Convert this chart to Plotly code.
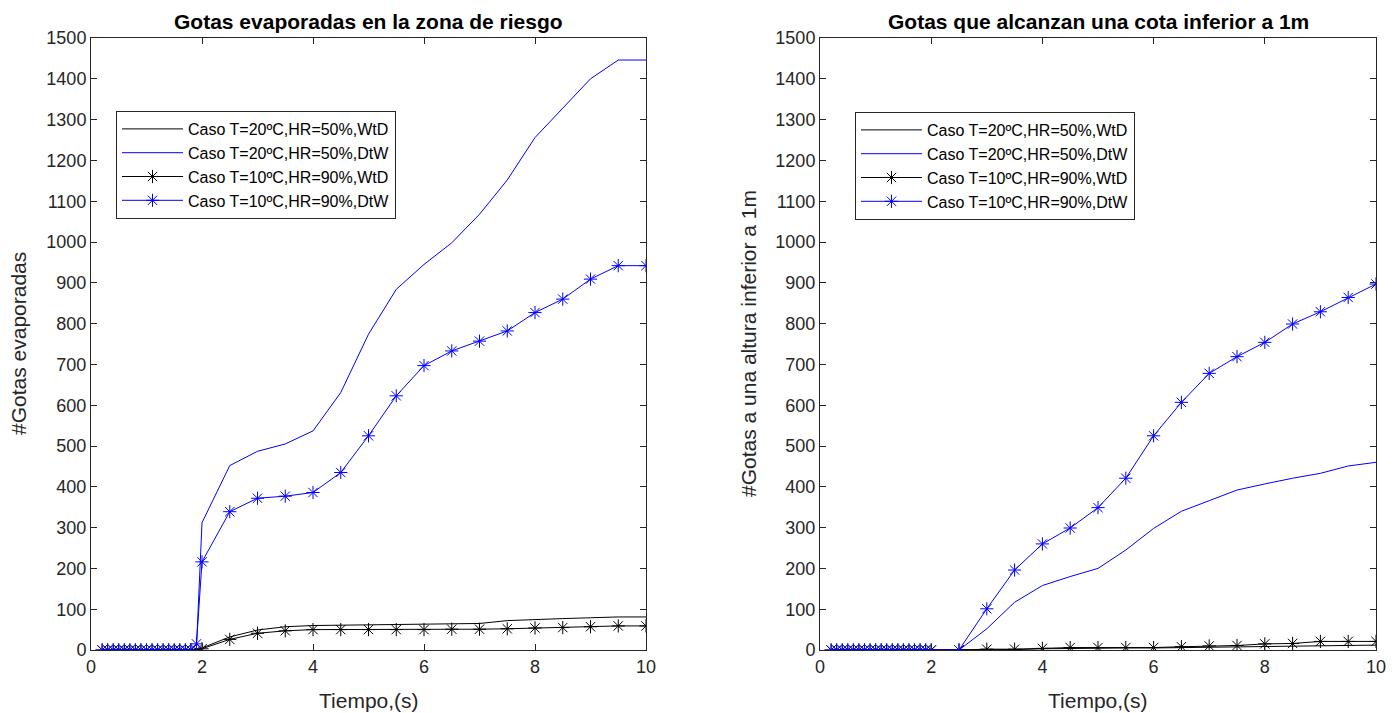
import plotly.graph_objects as go

# Simulation time instants (s)
tiempo = [0.2, 0.3, 0.4, 0.5, 0.6, 0.7, 0.8, 0.9, 1.0, 1.1, 1.2, 1.3, 1.4, 1.5,
          1.6, 1.7, 1.8, 1.9, 2.0, 2.5, 3.0, 3.5, 4.0, 4.5, 5.0, 5.5, 6.0, 6.5,
          7.0, 7.5, 8.0, 8.5, 9.0, 9.5, 10.0]

Z18 = [0] * 18  # 0.2 .. 1.9 s

# Left panel: droplets evaporated in the risk zone
evap_t20_wtd = Z18 + [5, 32, 49, 57, 60, 61, 62, 62, 63, 64, 65, 72, 75, 77, 79, 81, 81]
evap_t20_dtw = Z18[:-1] + [4, 312, 452, 487, 505, 537, 631, 774, 884, 945, 998, 1068,
                           1152, 1256, 1328, 1400, 1446, 1446]
evap_t10_wtd = Z18 + [3, 26, 41, 47, 50, 50, 50, 50, 50, 51, 51, 52, 54, 55, 57, 59, 59]
evap_t10_dtw = Z18[:-1] + [15, 216, 339, 372, 377, 386, 435, 525, 623, 697, 733, 757,
                           782, 827, 860, 909, 942, 942]

# Right panel: droplets reaching a height below 1 m
baja_t20_wtd = Z18 + [0, 0, 0, 1, 3, 4, 5, 5, 5, 6, 6, 7, 8, 9, 11, 12, 12]
baja_t20_dtw = Z18 + [0, 0, 52, 117, 158, 180, 200, 245, 298, 340, 366, 392, 407,
                      421, 433, 451, 460]
baja_t10_wtd = Z18 + [0, 0, 2, 2, 4, 6, 6, 6, 6, 8, 10, 11, 15, 16, 21, 21, 21]
baja_t10_dtw = Z18 + [0, 0, 101, 196, 260, 299, 349, 421, 525, 607, 678, 719, 754,
                      799, 829, 864, 897]

nombres = ["Caso T=20ºC,HR=50%,WtD", "Caso T=20ºC,HR=50%,DtW",
           "Caso T=10ºC,HR=90%,WtD", "Caso T=10ºC,HR=90%,DtW"]
titulos = ["Gotas evaporadas en la zona de riesgo",
           "Gotas que alcanzan una cota inferior a 1m"]
etiquetas_y = ["#Gotas evaporadas", "#Gotas a una altura inferior a 1m"]
etiqueta_x = "Tiempo,(s)"

FONT = "Liberation Sans, Arial, sans-serif"
AXC = "#262626"
W, H = 1400, 713

estilos = [
    dict(color="#000000", marker=False),
    dict(color="#0000ff", marker=False),
    dict(color="#000000", marker=True),
    dict(color="#0000ff", marker=True),
]

fig = go.Figure()

paneles = [
    ([evap_t20_wtd, evap_t20_dtw, evap_t10_wtd, evap_t10_dtw], "x", "y", "legend"),
    ([baja_t20_wtd, baja_t20_dtw, baja_t10_wtd, baja_t10_dtw], "x2", "y2", "legend2"),
]
for series, xa, ya, leg in paneles:
    for nombre, vals, st in zip(nombres, series, estilos):
        kw = dict(
            x=tiempo, y=vals, name=nombre, xaxis=xa, yaxis=ya, legend=leg,
            line=dict(color=st["color"], width=1),
        )
        if st["marker"]:
            kw["mode"] = "lines+markers"
            kw["marker"] = dict(symbol="asterisk-open", size=11,
                                color=st["color"],
                                line=dict(color=st["color"], width=1))
        else:
            kw["mode"] = "lines"
        fig.add_trace(go.Scatter(**kw))

# Axes placement in pixels
ax_px = [(91, 646), (820, 1376)]
y_top, y_bot = 38, 650
ydom = [(H - y_bot) / H, (H - y_top) / H]

eje_comun = dict(
    showline=True, linecolor=AXC, linewidth=1, mirror="allticks",
    ticks="inside", ticklen=6, tickcolor=AXC, tickwidth=1,
    showgrid=False, zeroline=False, automargin=False,
    tickfont=dict(family=FONT, size=18, color=AXC),
)

layout = dict(
    width=W, height=H,
    margin=dict(l=0, r=0, t=0, b=0, pad=0, autoexpand=False),
    paper_bgcolor="white", plot_bgcolor="white",
    font=dict(family=FONT, color=AXC),
    showlegend=True,
)
for i, (x0, x1) in enumerate(ax_px):
    sfx = "" if i == 0 else str(i + 1)
    layout["xaxis" + sfx] = dict(
        eje_comun, domain=[x0 / W, x1 / W], range=[0, 10],
        tickvals=[0, 2, 4, 6, 8, 10], anchor="y" + sfx,
    )
    layout["yaxis" + sfx] = dict(
        eje_comun, domain=ydom, range=[0, 1500],
        tickvals=list(range(0, 1501, 100)), anchor="x" + sfx,
    )

leg_pos = [(116, 111), (855, 112)]
for i, (lx, ly) in enumerate(leg_pos):
    key = "legend" if i == 0 else "legend2"
    layout[key] = dict(
        x=lx / W, y=1 - ly / H, xanchor="left", yanchor="top",
        bgcolor="white", bordercolor=AXC, borderwidth=1,
        font=dict(family=FONT, size=16, color="#000000"),
        traceorder="normal", itemwidth=61,
    )

fig.update_layout(**layout)

anots = []
for i, (x0, x1) in enumerate(ax_px):
    xc = (x0 + x1) / 2 / W
    anots.append(dict(
        text="<b>" + titulos[i] + "</b>", x=xc, y=1 - 22 / H,
        xref="paper", yref="paper", showarrow=False,
        font=dict(family=FONT, size=21, color="#000000"),
        xanchor="center", yanchor="middle",
    ))
    anots.append(dict(
        text=etiqueta_x, x=xc, y=1 - 700 / H,
        xref="paper", yref="paper", showarrow=False,
        font=dict(family=FONT, size=21, color=AXC),
        xanchor="center", yanchor="middle",
    ))
    ylx = [18, 748][i]
    anots.append(dict(
        text=etiquetas_y[i], x=ylx / W, y=1 - (y_top + y_bot) / 2 / H,
        xref="paper", yref="paper", showarrow=False, textangle=-90,
        font=dict(family=FONT, size=21, color=AXC),
        xanchor="center", yanchor="middle",
    ))
fig.update_layout(annotations=anots)

fig.write_html("out.html")
